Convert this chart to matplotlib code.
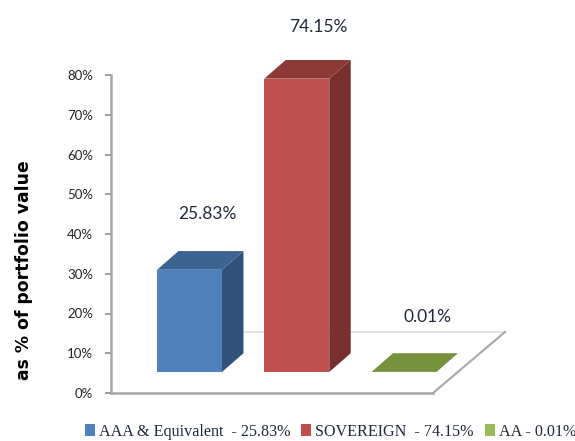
import matplotlib
matplotlib.use("Agg")
import matplotlib.pyplot as plt
from matplotlib.patches import Polygon, Patch

# values
categories = ["AAA & Equivalent  - 25.83%", "SOVEREIGN  - 74.15%", "AA - 0.01%"]
values = [25.83, 74.15, 0.01]
value_labels = ["25.83%", "74.15%", "0.01%"]
yticks = [0, 10, 20, 30, 40, 50, 60, 70, 80]

# colours : face, side, top
front = ["#4F81BD", "#C0504D", "#9BBB59"]
side = ["#30517A", "#77302E", "#5F7530"]
top = ["#3C6391", "#8C3A38", "#76923C"]

W, H = 575, 441
fig = plt.figure(figsize=(W / 100, H / 100), dpi=100)

# axes runs from the y axis (x=111px) to x=520px, 0% at y=393px, 80% at y=75px
ax = fig.add_axes([111 / W, (H - 393) / H, (520 - 111) / W, (393 - 75) / H])
ax.set_xlim(-0.732, 3.081)
ax.set_ylim(0, 80)
ax.patch.set_visible(False)

bar_w = 0.606
base = 5.3      # front of the bars sits above the floor edge
dx, dy = 0.2, 4.7      # bar depth
floor_dx, floor_dy = 0.671, 15.35
floor_end = 2.27

# floor
ax.plot([floor_end + floor_dx, -0.732 + floor_dx], [floor_dy, floor_dy], color="#E4E4E4", lw=1.5, zorder=1)
ax.plot([floor_end, floor_end + floor_dx], [0, floor_dy], color="#A8A8A8", lw=1.5, zorder=1, clip_on=False)

for i, v in enumerate(values):
    x0 = i - bar_w / 2
    x1 = i + bar_w / 2
    y0 = base
    y1 = base + v * 0.995
    if v > 1:
        ax.add_patch(Polygon([(x0, y0), (x1, y0), (x1, y1), (x0, y1)], fc=front[i], ec="none", zorder=3, clip_on=False))
        ax.add_patch(Polygon([(x1, y0), (x1 + dx, y0 + dy), (x1 + dx, y1 + dy), (x1, y1)], fc=side[i], ec="none", zorder=3, clip_on=False))
    ax.add_patch(Polygon([(x0, y1), (x1, y1), (x1 + dx, y1 + dy), (x0 + dx, y1 + dy)], fc=top[i], ec="none", zorder=3, clip_on=False))

label_dx = [0.165, 0.2, 0.215]
label_y = [45.0, 92.0, 19.2]
for i, s in enumerate(value_labels):
    ax.text(i + label_dx[i], label_y[i], s, ha="center", va="center", fontsize=12.5,
            family="Lato", color="#1F2A38", clip_on=False)

# axes
for name in ["top", "right"]:
    ax.spines[name].set_visible(False)
ax.spines["left"].set_color("#A6A6A6")
ax.spines["left"].set_linewidth(1.8)
ax.spines["bottom"].set_color("#A6A6A6")
ax.spines["bottom"].set_linewidth(1.8)
ax.spines["bottom"].set_bounds(-0.732, floor_end)
ax.set_xticks([])
ax.set_yticks(yticks)
ax.set_yticklabels([f"{t}%" for t in yticks], family="Lato", fontsize=9.5, color="#222222")
ax.tick_params(axis="y", length=4, width=1.2, color="#8C8C8C", pad=9)

fig.text(24 / W, 1 - 270 / H, "as % of portfolio value", rotation=90, ha="center", va="center",
         family="DejaVu Sans", weight="bold", fontsize=12.4, color="black")

handles = [Patch(fc=c, ec="none") for c in front]
fig.legend(handles, categories, loc="center left", bbox_to_anchor=(85 / W, 1 - 432 / H), ncol=3, frameon=False,
           prop={"family": "Liberation Serif", "size": 11.6}, handlelength=0.6, handleheight=0.75,
           handletextpad=0.25, columnspacing=0.7, labelcolor="#1F2A38", borderpad=0, borderaxespad=0)

fig.savefig("out.png", dpi=100)
